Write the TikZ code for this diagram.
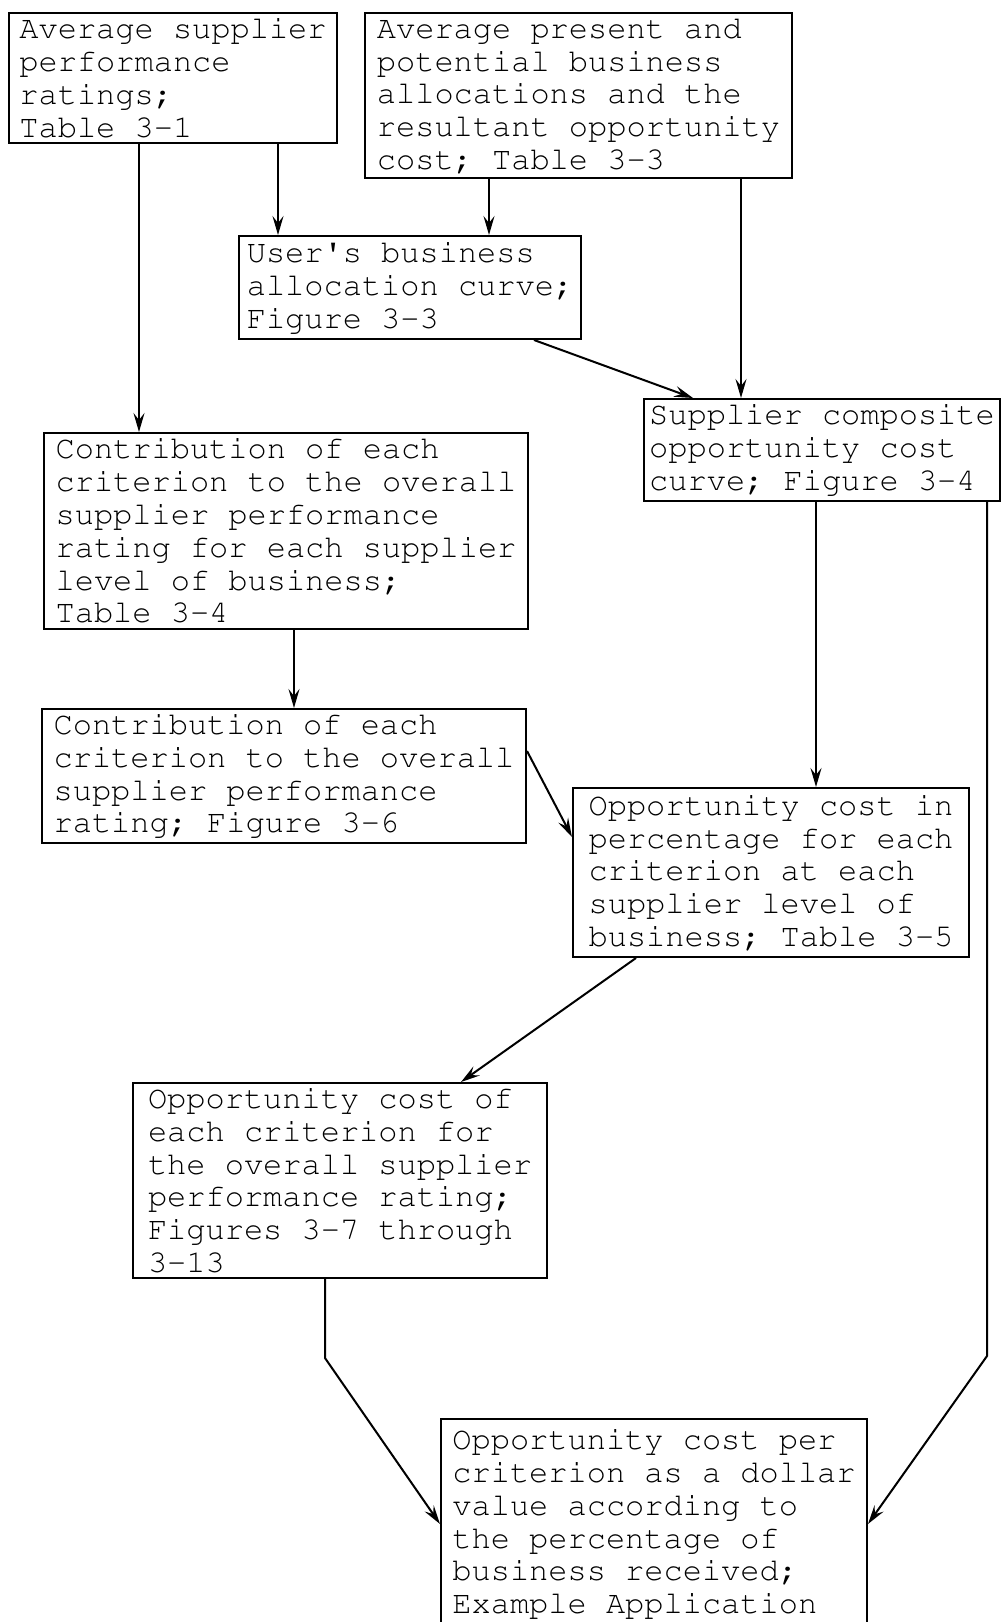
\documentclass[tikz,border=0pt]{standalone}
\usepackage[T1]{fontenc}
\usepackage{courier}
\usetikzlibrary{arrows.meta,calc}
\tikzset{
	kasten/.style={
			draw, line width=2pt, anchor=north west, align=left,
			inner sep=0pt, font=\ttfamily\fontsize{32}{32.8}\selectfont
		}
}

\begin{document}
\begin{tikzpicture}[x=1pt, y=-1pt, line width=2pt, >={Stealth[length=19pt,width=11pt,inset=7pt]}]
        \useasboundingbox (0,0) rectangle (1001,1622);
        % Kaesten zeichnen
        \node[kasten, minimum width=328pt, minimum height=130pt] (avg) at (8,12) {Average supplier\\performance\\ratings;\\Table 3-1};
        \node[kasten, minimum width=427pt, minimum height=165pt] (alloc) at (364,12) {Average present and\\potential business\\allocations and the\\resultant opportunity\\cost; Table 3-3};
        \node[kasten, minimum width=342pt, minimum height=103pt] (user) at (238,235) {User\textquotesingle s business\\allocation curve;\\Figure 3-3};
        \node[kasten, minimum width=356pt, minimum height=102pt] (comp) at (643,398) {Supplier composite\\opportunity cost\\curve; Figure 3-4};
        \node[kasten, minimum width=484pt, minimum height=196pt] (contab) at (43,432) {Contribution of each\\criterion to the overall\\supplier performance\\rating for each supplier\\level of business;\\Table 3-4};
        \node[kasten, minimum width=484pt, minimum height=134pt] (config) at (41,708) {Contribution of each\\criterion to the overall\\supplier performance\\rating; Figure 3-6};
        \node[kasten, minimum width=396pt, minimum height=169pt] (pct) at (572,787) {Opportunity cost in\\percentage for each\\criterion at each\\supplier level of\\business; Table 3-5};
        \node[kasten, minimum width=414pt, minimum height=195pt] (crit) at (132,1082) {Opportunity cost of\\each criterion for\\the overall supplier\\performance rating;\\Figures 3-7 through\\3-13};
        \node[kasten, minimum width=426pt, minimum height=210pt] (dollar) at (440,1418) {Opportunity cost per\\criterion as a dollar\\value according to\\the percentage of\\business received;\\Example Application};
        % Pfeile zeichnen
        \draw[->] ([xshift=-34pt]avg.south) -- ([xshift=-34pt]avg.south |- contab.north);
        \draw[->] ([xshift=105pt]avg.south) -- ([xshift=105pt]avg.south |- user.north);
        \draw[->] ([xshift=-89.5pt]alloc.south) -- ([xshift=-89.5pt]alloc.south |- user.north);
        \draw[->] ([xshift=162.5pt]alloc.south) -- ([xshift=162.5pt]alloc.south |- comp.north);
        \draw[->] ([xshift=124pt]user.south) -- ([xshift=-129pt]comp.north);
        \draw[->] ([xshift=-6pt]comp.south) -- ([xshift=-6pt]comp.south |- pct.north);
        \draw[->] ([xshift=165pt]comp.south) -- ++(0,854) -- (dollar.east);
        \draw[->] ([xshift=8pt]contab.south) -- ([xshift=8pt]contab.south |- config.north);
        \draw[->] ([yshift=25pt]config.east) -- ([yshift=35.5pt]pct.west);
        \draw[->] ([xshift=-135pt]pct.south) -- ([xshift=121pt]crit.north);
        \draw[->] ([xshift=-15pt]crit.south) -- ++(0,79) -- (dollar.west);
    \end{tikzpicture}
\end{document}
